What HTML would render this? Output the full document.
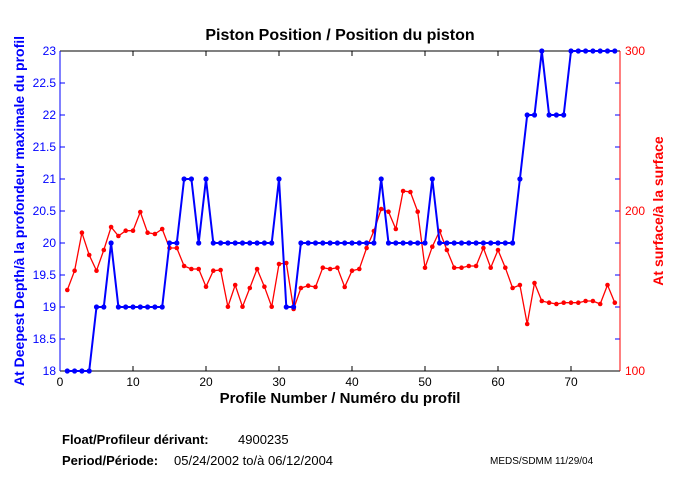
<!DOCTYPE html>
<html><head><meta charset="utf-8"><style>
html,body{margin:0;padding:0;background:#fff;}
svg{display:block;font-family:"Liberation Sans",Arial,sans-serif;}
</style></head><body>
<svg id="s" width="680" height="500" viewBox="0 0 680 500" xmlns="http://www.w3.org/2000/svg">
<rect width="680" height="500" fill="#fff"/>
<text x="340" y="40" text-anchor="middle" font-size="16" font-weight="bold">Piston Position / Position du piston</text>
<g id="ticks" stroke="#000" stroke-width="1"></g>
<line x1="60" y1="51" x2="620" y2="51" stroke="#000"/>
<line x1="60" y1="371" x2="620" y2="371" stroke="#000"/>
<line x1="60" y1="51" x2="60" y2="371" stroke="#00f"/>
<line x1="620" y1="51" x2="620" y2="371" stroke="#f00"/>
<g font-size="12" fill="#00f" text-anchor="end">
<text x="56" y="55">23</text><text x="56" y="87">22.5</text><text x="56" y="119">22</text><text x="56" y="151">21.5</text><text x="56" y="183">21</text><text x="56" y="215">20.5</text><text x="56" y="247">20</text><text x="56" y="279">19.5</text><text x="56" y="311">19</text><text x="56" y="343">18.5</text><text x="56" y="375">18</text>
</g>
<g font-size="12" fill="#f00">
<text x="625" y="55">300</text><text x="625" y="215">200</text><text x="625" y="375">100</text>
</g>
<g font-size="12" fill="#000" text-anchor="middle">
<text x="60" y="386">0</text><text x="133" y="386">10</text><text x="206" y="386">20</text><text x="279" y="386">30</text><text x="352" y="386">40</text><text x="425" y="386">50</text><text x="498" y="386">60</text><text x="571" y="386">70</text>
</g>
<text x="340" y="403" text-anchor="middle" font-size="15" font-weight="bold">Profile Number / Numéro du profil</text>
<text transform="translate(24,211) rotate(-90)" text-anchor="middle" font-size="14" font-weight="bold" fill="#00f">At Deepest Depth/à la profondeur maximale du profil</text>
<text transform="translate(663,211) rotate(-90)" text-anchor="middle" font-size="14" font-weight="bold" fill="#f00">At surface/à la surface</text>
<text x="62" y="444" font-size="13" font-weight="bold">Float/Profileur dérivant:</text>
<text x="238" y="444" font-size="13">4900235</text>
<text x="62" y="465" font-size="13" font-weight="bold">Period/Période:</text>
<text x="174" y="465" font-size="13">05/24/2002  to/à  06/12/2004</text>
<text x="490" y="464" font-size="10">MEDS/SDMM  11/29/04</text>
<g id="data"></g>
</svg>
<script>
var NS="http://www.w3.org/2000/svg";
function X(p){return 60+p*7.3;}
var blue=[18,18,18,18,19,19,20,19,19,19,19,19,19,19,20,20,21,21,20,21,20,20,20,20,20,20,20,20,20,21,19,19,20,20,20,20,20,20,20,20,20,20,20,21,20,20,20,20,20,20,21,20,20,20,20,20,20,20,20,20,20,20,21,22,22,23,22,22,22,23,23,23,23,23,23,23];
var red=[290,270.7,232.7,255,270.7,250,227,236,230.7,230.7,212,232.7,234,229,248,248,266,269,269,286.7,270.7,270,306.7,285,306.7,288,269,286.7,306.7,264,263,309,288,285.7,287,267.7,269,267.7,287,270.7,269,248,231,209,211.7,229,191,192,211.7,267.7,246.7,231,250,267.7,267.7,266,266,248,267.7,250,267.7,288,285,324,283,301,302.7,304,302.7,302.7,302.7,301,301,304,285,302.7];
var t=document.getElementById("ticks");
function ln(g,a,b,c,d,col){var l=document.createElementNS(NS,"line");l.setAttribute("x1",a);l.setAttribute("y1",b);l.setAttribute("x2",c);l.setAttribute("y2",d);l.setAttribute("stroke",col);t.appendChild(l);}
for(var i=1;i<=7;i++){var x=X(i*10);ln(t,x,371,x,366,"#000");ln(t,x,51,x,56,"#000");}
for(var j=1;j<10;j++){var y=51+j*32;ln(t,60,y,65,y,"#00f");ln(t,620,y,615,y,"#00f");}
var g=document.getElementById("data");
function series(pts,col,w,r){var pl=document.createElementNS(NS,"polyline");pl.setAttribute("points",pts.map(function(p){return p.join(",");}).join(" "));pl.setAttribute("fill","none");pl.setAttribute("stroke",col);pl.setAttribute("stroke-width",w);g.appendChild(pl);
pts.forEach(function(p){var c=document.createElementNS(NS,"circle");c.setAttribute("cx",p[0]);c.setAttribute("cy",p[1]);c.setAttribute("r",r);c.setAttribute("fill",col);g.appendChild(c);});}
series(red.map(function(v,i){return [X(i+1),v];}),"#f00",1.3,2.3);
series(blue.map(function(v,i){return [X(i+1),51+(23-v)*64];}),"#00f",2,2.6);
</script>
</body></html>
